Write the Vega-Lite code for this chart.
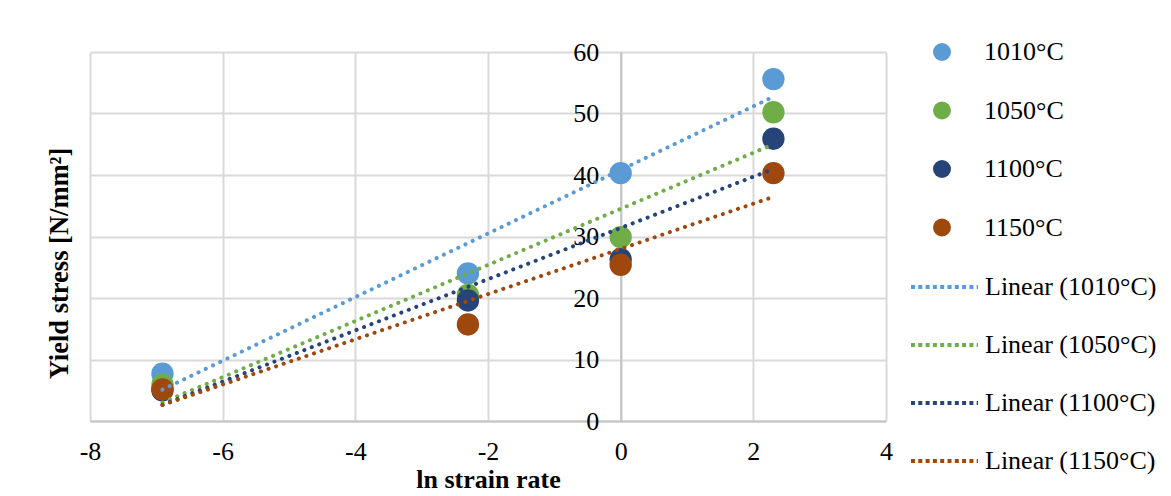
{
  "$schema": "https://vega.github.io/schema/vega-lite/v6.json",
  "width": 796,
  "height": 369,
  "autosize": {"type": "none"},
  "padding": {"left": 90, "top": 52, "right": 285, "bottom": 75},
  "background": "white",
  "config": {
    "view": {"stroke": null},
    "font": "Liberation Serif",
    "axis": {
      "labelFont": "Liberation Serif",
      "labelFontSize": 26,
      "labelColor": "#000000",
      "titleFont": "Liberation Serif",
      "titleFontSize": 26,
      "titleFontWeight": "bold",
      "titleColor": "#000000",
      "gridColor": "#D9D9D9",
      "gridWidth": 2,
      "gridOpacity": 1,
      "domainColor": "#C4C4C4",
      "domainWidth": 2,
      "ticks": false,
      "labelOverlap": false,
      "labelFlush": false
    },
    "legend": {
      "labelFont": "Liberation Serif",
      "labelFontSize": 26,
      "labelColor": "#000000",
      "padding": 0,
      "labelLimit": 400
    }
  },
  "data": {
    "values": [
      {"ln_rate": -6.9078, "stress": 7.7, "temp": "1010°C", "trend": "Linear (1010°C)"},
      {"ln_rate": -2.3026, "stress": 24.0, "temp": "1010°C", "trend": "Linear (1010°C)"},
      {"ln_rate": 0, "stress": 40.3, "temp": "1010°C", "trend": "Linear (1010°C)"},
      {"ln_rate": 2.3026, "stress": 55.6, "temp": "1010°C", "trend": "Linear (1010°C)"},
      {"ln_rate": -6.9078, "stress": 5.9, "temp": "1050°C", "trend": "Linear (1050°C)"},
      {"ln_rate": -2.3026, "stress": 20.5, "temp": "1050°C", "trend": "Linear (1050°C)"},
      {"ln_rate": 0, "stress": 29.9, "temp": "1050°C", "trend": "Linear (1050°C)"},
      {"ln_rate": 2.3026, "stress": 50.2, "temp": "1050°C", "trend": "Linear (1050°C)"},
      {"ln_rate": -6.9078, "stress": 5.0, "temp": "1100°C", "trend": "Linear (1100°C)"},
      {"ln_rate": -2.3026, "stress": 19.6, "temp": "1100°C", "trend": "Linear (1100°C)"},
      {"ln_rate": 0, "stress": 26.3, "temp": "1100°C", "trend": "Linear (1100°C)"},
      {"ln_rate": 2.3026, "stress": 45.9, "temp": "1100°C", "trend": "Linear (1100°C)"},
      {"ln_rate": -6.9078, "stress": 5.15, "temp": "1150°C", "trend": "Linear (1150°C)"},
      {"ln_rate": -2.3026, "stress": 15.7, "temp": "1150°C", "trend": "Linear (1150°C)"},
      {"ln_rate": 0, "stress": 25.4, "temp": "1150°C", "trend": "Linear (1150°C)"},
      {"ln_rate": 2.3026, "stress": 40.3, "temp": "1150°C", "trend": "Linear (1150°C)"}
    ]
  },
  "encoding": {
    "x": {
      "field": "ln_rate",
      "type": "quantitative",
      "scale": {"domain": [-8, 4], "nice": false, "zero": false},
      "axis": {
        "title": "ln strain rate",
        "values": [-8, -6, -4, -2, 0, 2, 4],
        "labelExpr": "'' + datum.value",
        "grid": true,
        "labelPadding": 17,
        "titlePadding": 2
      }
    },
    "y": {
      "field": "stress",
      "type": "quantitative",
      "scale": {"domain": [0, 60], "nice": false},
      "axis": {
        "title": "Yield stress [N/mm²]",
        "values": [0, 10, 20, 30, 40, 50, 60],
        "grid": true,
        "offset": -530.67,
        "labelPadding": 22,
        "titleAngle": -90,
        "titleAlign": "center",
        "titleBaseline": "middle",
        "titleFontSize": 26.5,
        "titleX": -561,
        "titleY": 211
      }
    }
  },
  "layer": [
    {
      "mark": {"type": "point", "shape": "circle", "filled": true, "opacity": 1, "size": 500},
      "encoding": {
        "color": {
          "field": "temp",
          "type": "nominal",
          "scale": {
            "domain": ["1010°C", "1050°C", "1100°C", "1150°C"],
            "range": ["#5B9BD5", "#70AD47", "#264478", "#9E480E"]
          },
          "legend": {
            "title": null,
            "orient": "none",
            "legendX": 839,
            "legendY": -13,
            "rowPadding": 32.5,
            "symbolType": "circle",
            "symbolSize": 324,
            "symbolOpacity": 1,
            "labelOffset": 29
          }
        }
      }
    },
    {
      "transform": [
        {"regression": "stress", "on": "ln_rate", "groupby": ["trend"]}
      ],
      "mark": {"type": "line", "strokeWidth": 4, "strokeDash": [0.1, 7.9], "strokeCap": "round"},
      "encoding": {
        "color": {
          "field": "trend",
          "type": "nominal",
          "scale": {
            "domain": ["Linear (1010°C)", "Linear (1050°C)", "Linear (1100°C)", "Linear (1150°C)"],
            "range": ["#5B9BD5", "#70AD47", "#264478", "#9E480E"]
          },
          "legend": {
            "title": null,
            "orient": "none",
            "legendX": 819,
            "legendY": 199.5,
            "rowPadding": 9,
            "symbolType": "stroke",
            "symbolSize": 4489,
            "symbolStrokeWidth": 4,
            "symbolDash": [4, 3.3],
            "labelOffset": 5
          }
        }
      }
    }
  ],
  "resolve": {"scale": {"color": "independent"}}
}
